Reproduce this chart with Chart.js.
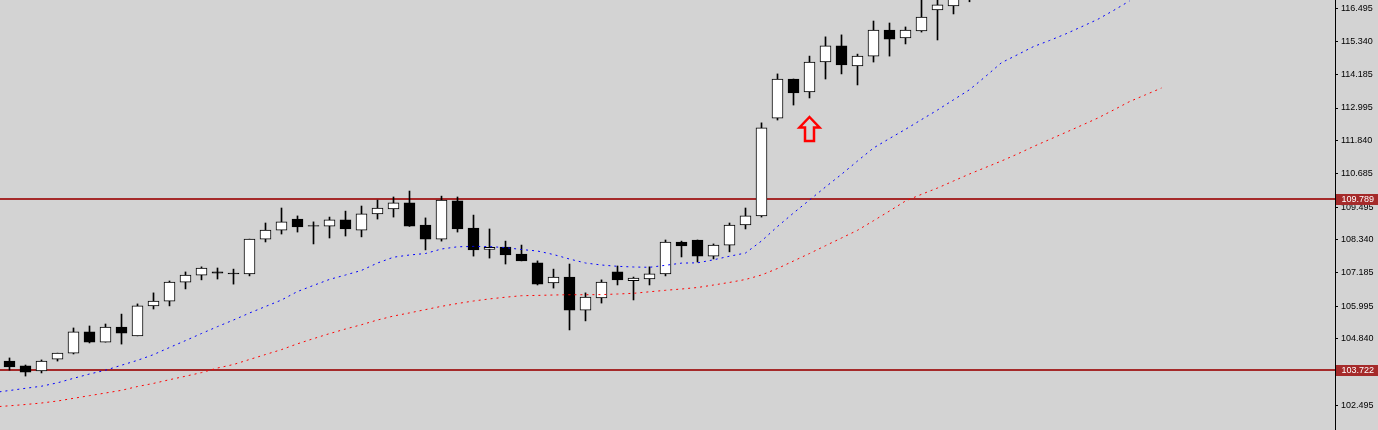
<!DOCTYPE html>
<html>
<head>
<meta charset="utf-8">
<title>candles</title>
<style>
  body { margin: 0; background: #d3d3d3; }
  #wrap { width: 1378px; height: 430px; }
</style>
</head>
<body>
<div id="wrap"><canvas id="myChart"></canvas></div>
<script src="https://cdn.jsdelivr.net/npm/chart.js"></script>
<script>
// candle data, one entry per bar
const opens = [104.05, 103.88, 103.70, 104.12, 104.33, 105.08, 104.72, 105.25, 104.94, 106.00,
  106.17, 106.84, 107.09, 107.20, 107.16, 107.13, 108.36, 108.68, 109.07, 108.84,
  108.82, 109.04, 108.68, 109.25, 109.43, 109.64, 108.86, 108.36, 109.71, 108.75,
  108.00, 108.08, 107.83, 107.52, 106.81, 107.02, 105.85, 106.28, 107.20, 106.89,
  106.95, 107.13, 108.26, 108.33, 107.76, 108.15, 108.86, 109.18, 112.64, 114.02,
  113.56, 114.62, 115.19, 114.48, 114.83, 115.75, 115.47, 115.72, 116.46, 116.60,
  117.00];
const highs = [104.16, 103.91, 104.09, 104.33, 105.22, 105.29, 105.36, 105.71, 106.07, 106.46,
  106.88, 107.20, 107.38, 107.34, 107.30, 108.36, 108.93, 109.46, 109.18, 108.97,
  109.14, 109.35, 109.53, 109.74, 109.85, 110.06, 109.11, 109.88, 109.85, 109.21,
  108.72, 108.29, 108.15, 107.59, 107.30, 107.48, 106.46, 106.92, 107.41, 107.02,
  107.38, 108.33, 108.29, 108.33, 108.19, 108.93, 109.46, 112.47, 114.20, 114.02,
  114.83, 115.51, 115.58, 114.90, 116.07, 116.00, 115.86, 116.92, 116.95, 117.09,
  117.35];
const lows = [103.73, 103.52, 103.63, 104.05, 104.30, 104.69, 104.72, 104.65, 104.94, 105.89,
  106.00, 106.60, 106.92, 106.95, 106.77, 107.06, 108.26, 108.54, 108.61, 108.19,
  108.40, 108.47, 108.44, 109.07, 109.14, 108.81, 107.98, 108.29, 108.61, 107.76,
  107.69, 107.48, 107.59, 106.74, 106.63, 105.15, 105.47, 106.10, 106.74, 106.21,
  106.74, 107.06, 107.73, 107.55, 107.66, 107.91, 108.72, 109.14, 112.57, 113.10,
  113.35, 114.02, 114.20, 113.81, 114.62, 114.83, 115.26, 115.68, 115.40, 116.32,
  116.75];
const closes = [103.84, 103.66, 104.05, 104.33, 105.08, 104.72, 105.25, 105.04, 106.00, 106.17,
  106.84, 107.09, 107.34, 107.16, 107.13, 108.36, 108.68, 108.97, 108.79, 108.82,
  109.04, 108.72, 109.25, 109.46, 109.64, 108.82, 108.36, 109.74, 108.72, 107.98,
  108.07, 107.80, 107.59, 106.77, 107.02, 105.85, 106.31, 106.84, 106.92, 106.98,
  107.13, 108.26, 108.12, 107.76, 108.15, 108.86, 109.18, 112.29, 114.02, 113.53,
  114.62, 115.19, 114.52, 114.83, 115.75, 115.43, 115.75, 116.21, 116.64, 116.92,
  117.25];

// shifted moving averages, first value sits one bar before candle 0
const maStart = -1;
const maBlue = [102.935, 103.009, 103.087, 103.161, 103.281, 103.440, 103.592, 103.726, 103.903, 104.076, 104.278,
  104.529, 104.773, 105.024, 105.268, 105.501, 105.748, 105.978, 106.208, 106.508, 106.724,
  106.936, 107.092, 107.254, 107.516, 107.721, 107.799, 107.852, 108.011, 108.089, 108.103,
  108.096, 108.060, 107.993, 107.940, 107.816, 107.657, 107.516, 107.445, 107.399, 107.375,
  107.364, 107.435, 107.512, 107.523, 107.629, 107.756, 107.869, 108.294, 108.806, 109.283,
  109.743, 110.203, 110.651, 111.122, 111.581, 111.917, 112.242, 112.585, 112.924, 113.285,
  113.642, 114.109, 114.597, 114.879, 115.166, 115.381, 115.611, 115.866, 116.124, 116.442,
  116.778];
const maRed = [102.429, 102.468, 102.514, 102.567, 102.638, 102.733, 102.828, 102.920, 103.016, 103.150, 103.260,
  103.391, 103.514, 103.642, 103.804, 103.928, 104.105, 104.281, 104.455, 104.660, 104.843,
  105.020, 105.183, 105.335, 105.501, 105.642, 105.752, 105.869, 105.985, 106.084, 106.173,
  106.247, 106.307, 106.360, 106.371, 106.385, 106.395, 106.395, 106.399, 106.420, 106.445,
  106.498, 106.551, 106.597, 106.650, 106.738, 106.830, 106.933, 107.092, 107.322, 107.587,
  107.852, 108.128, 108.400, 108.672, 109.011, 109.354, 109.708, 109.944, 110.167, 110.415,
  110.662, 110.892, 111.122, 111.369, 111.634, 111.882, 112.129, 112.380, 112.635, 112.924,
  113.221, 113.462, 113.702];

// price axis
const tickValues = [102.495, 103.685, 104.840, 105.995, 107.185, 108.340, 109.495,
  110.685, 111.840, 112.995, 114.185, 115.340, 116.495];
const yMin = 101.613;
const yMax = 116.813;

// horizontal levels and the arrow marker
const levelPrices = [109.789, 103.722];
const arrowIndex = 50;
const arrowPrice = 112.677;

const levelColor = '#a52a2a';
const axisFont = { family: 'Liberation Sans', size: 9 };

// each bar is 16px wide, plot area ends at the price axis
const barStep = 16;
const plotWidth = 1335;
const xMin = -9.5 / barStep;
const xMax = xMin + plotWidth / barStep;

const bodyData = opens.map((o, i) => ({ x: i, y: [o, closes[i]] }));
const wickData = opens.map((o, i) => ({ x: i, y: [lows[i], highs[i]] }));
const bodyColors = opens.map((o, i) => closes[i] >= o ? '#ffffff' : '#000000');

const levelsPlugin = {
  id: 'levels',
  beforeDatasetsDraw(chart) {
    const { ctx, chartArea, scales: { y } } = chart;
    ctx.save();
    ctx.strokeStyle = levelColor;
    ctx.lineWidth = 2;
    levelPrices.forEach(p => {
      const py = Math.round(y.getPixelForValue(p));
      ctx.beginPath();
      ctx.moveTo(chartArea.left, py);
      ctx.lineTo(chartArea.right, py);
      ctx.stroke();
    });
    ctx.restore();
  },
  afterDatasetsDraw(chart) {
    // red up arrow
    const { ctx, scales: { x, y } } = chart;
    const cx = x.getPixelForValue(arrowIndex);
    const ty = y.getPixelForValue(arrowPrice);
    const path = () => {
      ctx.beginPath();
      ctx.moveTo(cx, ty);
      ctx.lineTo(cx + 10, ty + 10.5);
      ctx.lineTo(cx + 4.5, ty + 10.5);
      ctx.lineTo(cx + 4.5, ty + 24);
      ctx.lineTo(cx - 4.5, ty + 24);
      ctx.lineTo(cx - 4.5, ty + 10.5);
      ctx.lineTo(cx - 10, ty + 10.5);
      ctx.closePath();
    };
    ctx.save();
    ctx.lineJoin = 'miter';
    ctx.strokeStyle = '#ff0000';
    ctx.lineWidth = 2.5;
    path();
    ctx.stroke();
    ctx.restore();
  },
  afterDraw(chart) {
    // price tags on the axis
    const { ctx, chartArea, scales: { y } } = chart;
    ctx.save();
    levelPrices.forEach(p => {
      const py = Math.round(y.getPixelForValue(p));
      ctx.fillStyle = levelColor;
      ctx.fillRect(chartArea.right + 1, py - 5, chart.width - chartArea.right - 1, 11);
      ctx.fillStyle = '#ffffff';
      ctx.font = axisFont.size + 'px "' + axisFont.family + '"';
      ctx.textBaseline = 'middle';
      ctx.textAlign = 'left';
      ctx.fillText(p.toFixed(3), chartArea.right + 6.5, py + 1);
    });
    ctx.restore();
  }
};

const ctx = document.getElementById('myChart').getContext('2d');
const myChart = new Chart(ctx, {
  type: 'bar',
  data: {
    datasets: [
      {
        type: 'line',
        data: maBlue.map((v, i) => ({ x: i + maStart, y: v })),
        borderColor: '#0000ff',
        borderWidth: 1,
        borderDash: [2, 4],
        pointRadius: 0,
        tension: 0,
        order: 0
      },
      {
        type: 'line',
        data: maRed.map((v, i) => ({ x: i + maStart, y: v })),
        borderColor: '#ff0000',
        borderWidth: 1,
        borderDash: [2, 4],
        pointRadius: 0,
        tension: 0,
        order: 0
      },
      {
        data: bodyData,
        backgroundColor: bodyColors,
        borderColor: '#000000',
        borderWidth: 1,
        borderSkipped: false,
        barThickness: 11,
        grouped: false,
        order: 1
      },
      {
        data: wickData,
        backgroundColor: '#000000',
        borderWidth: 0,
        barThickness: 1,
        grouped: false,
        order: 2
      }
    ]
  },
  options: {
    responsive: true,
    maintainAspectRatio: false,
    animation: false,
    events: [],
    layout: { padding: 0 },
    plugins: { legend: { display: false }, tooltip: { enabled: false } },
    scales: {
      x: { type: 'linear', offset: false, display: false, min: xMin, max: xMax },
      y: {
        position: 'right',
        min: yMin,
        max: yMax,
        afterFit(scale) {
          scale.width = 1378 - plotWidth;
          scale.paddingTop = 0;
          scale.paddingBottom = 0;
        },
        afterBuildTicks(scale) {
          scale.ticks = tickValues.map(v => ({ value: v }));
        },
        ticks: {
          callback: v => v.toFixed(3),
          color: '#000000',
          font: axisFont,
          padding: 3,
          autoSkip: false,
          maxRotation: 0
        },
        grid: { display: true, drawOnChartArea: false, drawTicks: true, tickLength: 3, color: '#000000' },
        border: { display: true, color: '#000000', width: 1 }
      }
    }
  },
  plugins: [levelsPlugin]
});
</script>
</body>
</html>
